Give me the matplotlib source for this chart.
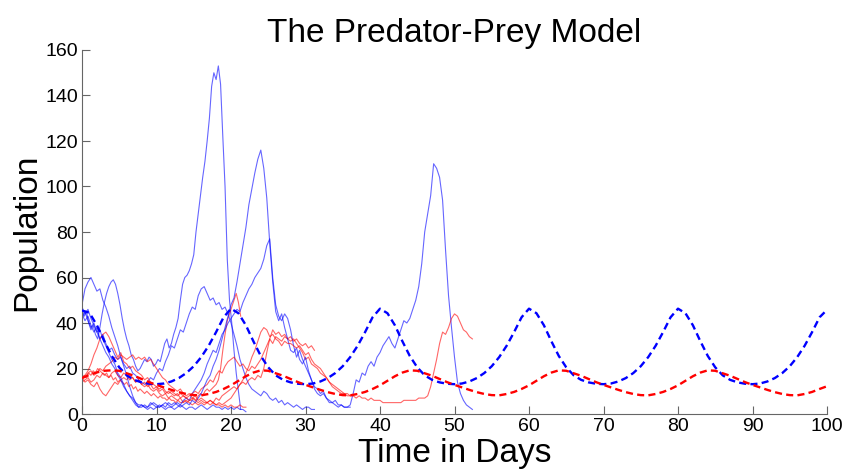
import numpy as np
import matplotlib.pyplot as plt

plt.rcParams['font.family'] = ['Liberation Sans', 'DejaVu Sans']

# deterministic model, one value per day (t = 0..100)
days = list(range(101))
prey_det = [45.5, 44.5, 39.0, 32.0, 25.5, 20.5, 17.0, 15.0, 13.9, 13.3,
            13.1, 13.4, 14.3, 15.8, 18.0, 21.0, 25.0, 30.0, 36.0, 42.5,
            46.3, 44.3, 39.0, 32.0, 25.5, 20.5, 17.0, 15.0, 13.9, 13.3,
            13.1, 13.4, 14.3, 15.8, 18.0, 21.0, 25.0, 30.0, 36.0, 42.5,
            46.3, 44.3, 39.0, 32.0, 25.5, 20.5, 17.0, 15.0, 13.9, 13.3,
            13.1, 13.4, 14.3, 15.8, 18.0, 21.0, 25.0, 30.0, 36.0, 42.5,
            46.3, 44.3, 39.0, 32.0, 25.5, 20.5, 17.0, 15.0, 13.9, 13.3,
            13.1, 13.4, 14.3, 15.8, 18.0, 21.0, 25.0, 30.0, 36.0, 42.5,
            46.3, 44.3, 39.0, 32.0, 25.5, 20.5, 17.0, 15.0, 13.9, 13.3,
            13.1, 13.4, 14.3, 15.8, 18.0, 21.0, 25.0, 30.0, 36.0, 42.5,
            45.8]
pred_det = [15.8, 17.2, 18.3, 19.0,
            19.2, 19.0, 17.9, 16.8, 15.4, 14.0, 12.8, 11.7, 10.6, 9.6,
            8.8, 8.3, 8.2, 8.8, 9.7, 11.0, 12.6, 14.6, 16.6, 18.2,
            19.2, 19.0, 17.9, 16.8, 15.4, 14.0, 12.8, 11.7, 10.6, 9.6,
            8.8, 8.3, 8.2, 8.8, 9.7, 11.0, 12.6, 14.6, 16.6, 18.2,
            19.2, 19.0, 17.9, 16.8, 15.4, 14.0, 12.8, 11.7, 10.6, 9.6,
            8.8, 8.3, 8.2, 8.8, 9.7, 11.0, 12.6, 14.6, 16.6, 18.2,
            19.2, 19.0, 17.9, 16.8, 15.4, 14.0, 12.8, 11.7, 10.6, 9.6,
            8.8, 8.3, 8.2, 8.8, 9.7, 11.0, 12.6, 14.6, 16.6, 18.2,
            19.2, 19.0, 17.9, 16.8, 15.4, 14.0, 12.8, 11.7, 10.6, 9.6,
            8.8, 8.3, 8.2, 8.8, 9.7, 11.0, 12.2]

# stochastic runs: end time of each run, values evenly spaced from t=0
run_end = [21.3, 31.2, 36.0, 52.4, 22.0]

prey_runs = [
    [46, 43, 45, 40, 37, 39, 35, 33, 38, 44,
     49, 53, 56, 58, 59, 57, 53, 48, 42, 37,
     33, 30, 26, 24, 21, 19, 20, 22, 24, 23,
     25, 24, 21, 22, 24, 23, 27, 31, 33, 29,
     31, 35, 38, 42, 50, 57, 60, 61, 63, 66,
     70, 80, 88, 96, 104, 111, 120, 130, 144, 150,
     147, 153, 145, 122, 100, 68, 50, 40, 28, 18, 10, 2],
    [42, 45, 41, 38, 40, 36, 33, 35, 31, 28,
     29, 26, 24, 25, 22, 20, 21, 18, 17, 15,
     14, 13, 14, 16, 15, 18, 20, 19, 23, 26,
     30, 29, 33, 37, 36, 40, 44, 47, 46, 52,
     55, 56, 53, 50, 51, 48, 49, 46, 47, 44,
     40, 35, 30, 24, 20, 16, 13, 11, 10, 9,
     8, 10, 9, 7, 6, 7, 5, 6, 4, 5,
     4, 3, 4, 3, 2, 3, 3, 2, 2],
    [47, 44, 46, 42, 39, 36, 37, 33, 30, 27,
     24, 22, 18, 16, 13, 10, 8, 6, 4, 3,
     3, 4, 3, 5, 4, 3, 3, 4, 5, 4,
     3, 4, 5, 4, 6, 7, 6, 9, 11, 13,
     15, 18, 22, 25, 28, 27, 31, 35, 37, 40,
     42, 44, 46, 45, 49, 52, 55, 57, 60, 62,
     64, 68, 74, 77, 60, 48, 43, 41, 44, 42,
     37, 30, 25, 28, 24, 21, 18, 15, 11, 9,
     8, 9, 7, 6, 5, 6, 4, 4, 3, 3, 3],
    [48, 55, 58, 60, 57, 54, 55, 50, 47, 43,
     38, 34, 30, 25, 21, 17, 12, 8, 5, 3,
     4, 3, 3, 4, 5, 4, 3, 4, 3, 5,
     4, 5, 4, 3, 4, 5, 4, 6, 5, 7,
     9, 12, 15, 17, 21, 24, 28, 33, 38, 43,
     48, 51, 58, 66, 74, 82, 92, 99, 106, 112,
     116, 108, 95, 75, 58, 45, 41, 44, 38, 33,
     28, 27, 29, 24, 22, 25, 19, 15, 12, 11,
     9, 10, 7, 5, 5, 4, 3, 4, 3, 3,
     4, 9, 15, 14, 18, 17, 21, 23, 21, 25,
     27, 30, 32, 34, 31, 29, 33, 37, 41, 40,
     42, 46, 50, 56, 66, 80, 88, 96, 110, 108,
     104, 94, 72, 52, 38, 25, 14, 9, 6, 4,
     3, 2],
    [44, 41, 43, 39, 36, 38, 33, 30, 27, 25,
     22, 20, 17, 15, 12, 10, 8, 7, 5, 4,
     4, 3, 2, 3, 2, 3, 4, 3, 2, 3,
     3, 2, 3, 4, 3, 2, 3, 3, 2, 3,
     4, 3, 2, 3, 4, 3, 3, 2, 3, 2,
     3, 2, 3, 2, 2, 1],
]

pred_runs = [
    [16, 17, 16, 18, 17, 19, 18, 20, 19, 18,
     17, 18, 16, 17, 15, 16, 14, 15, 14, 13,
     14, 12, 13, 11, 12, 10, 11, 10, 9, 10,
     9, 8, 9, 8, 7, 8, 7, 7, 6, 7,
     6, 6, 5, 6, 5, 5, 6, 5, 6, 6,
     7, 6, 8, 9, 8, 10, 11, 10, 11, 12,
     13, 15, 20, 28, 35, 41, 44, 47, 50, 53, 49, 43],
    [16, 14, 15, 13, 12, 14, 11, 9, 8, 10,
     12, 14, 13, 15, 16, 15, 17, 16, 14, 15,
     13, 12, 13, 11, 10, 11, 9, 8, 9, 7,
     8, 7, 6, 7, 5, 6, 5, 4, 5, 4,
     5, 4, 5, 6, 5, 7, 6, 8, 9, 10,
     11, 12, 11, 13, 14, 13, 15, 16, 15, 17,
     16, 20, 27, 33, 37, 35, 36, 34, 35, 33,
     34, 32, 33, 31, 30, 31, 29, 30, 28],
    [15, 17, 19, 22, 26, 29, 33, 35, 36, 34,
     31, 28, 25, 27, 23, 22, 20, 21, 19, 18,
     17, 15, 16, 14, 13, 12, 11, 12, 10, 9,
     10, 9, 8, 9, 8, 7, 8, 9, 10, 9,
     11, 12, 13, 15, 14, 17, 19, 18, 21, 23,
     24, 25, 23, 21, 22, 20, 19, 21, 20, 22,
     24, 27, 30, 33, 31, 34, 33, 32, 34, 33,
     32, 33, 31, 29, 27, 24, 25, 22, 21, 20,
     18, 17, 16, 14, 13, 12, 11, 10, 9, 9, 8],
    [17, 16, 18, 19, 17, 18, 20, 19, 21, 22,
     23, 25, 24, 26, 25, 24, 25, 26, 24, 25,
     24, 25, 23, 24, 22, 20, 18, 16, 15, 13,
     12, 11, 10, 11, 9, 8, 9, 7, 8, 6,
     7, 6, 5, 6, 5, 4, 5, 4, 5, 6,
     7, 9, 11, 13, 15, 18, 21, 25, 28, 32,
     36, 38, 37, 34, 35, 33, 32, 30, 32, 31,
     31, 30, 29, 30, 28, 26, 27, 24, 22, 21,
     20, 18, 16, 14, 12, 11, 10, 9, 9, 8,
     8, 8, 7, 8, 7, 7, 6, 7, 6, 6,
     6, 5, 5, 5, 5, 5, 5, 5, 6, 6,
     6, 6, 6, 7, 7, 7, 8, 12, 18, 24,
     31, 36, 35, 38, 42, 44, 43, 40, 37, 36,
     34, 33],
    [14, 15, 16, 14, 15, 17, 16, 18, 17, 16,
     18, 19, 17, 16, 18, 17, 15, 16, 14, 15,
     13, 14, 12, 13, 11, 12, 10, 11, 9, 10,
     9, 8, 9, 7, 8, 7, 6, 7, 6, 5,
     6, 5, 5, 4, 5, 4, 4, 3, 4, 3,
     4, 3, 3, 4, 3, 3],
]

fig = plt.figure(figsize=(8.46, 4.69), dpi=100)
ax = fig.add_axes([82 / 846, 55 / 469, 745 / 846, 364 / 469])

for end, prey, pred in zip(run_end, prey_runs, pred_runs):
    t = np.linspace(0, end, len(prey))
    ax.plot(t, prey, color='blue', alpha=0.6, linewidth=0.8)
    ax.plot(t, pred, color='red', alpha=0.6, linewidth=0.8)

ax.plot(days, prey_det, color='blue', linewidth=1.7, linestyle=(0, (3, 1.8)), zorder=5)
ax.plot(days, pred_det, color='red', linewidth=1.7, linestyle=(0, (3, 1.8)), zorder=5)

ax.set_xlim(0, 100)
ax.set_ylim(0, 160)
ax.set_xticks(range(0, 101, 10))
ax.set_yticks(range(0, 161, 20))
ax.spines['top'].set_visible(False)
ax.spines['right'].set_visible(False)
for s in ['left', 'bottom']:
    ax.spines[s].set_color('#666666')
ax.tick_params(direction='in', length=5.5, color='#666666', labelsize=14, pad=3)

ax.set_title('The Predator-Prey Model', fontsize=24, pad=6)
ax.set_xlabel('Time in Days', fontsize=24, labelpad=2)
ax.set_ylabel('Population', fontsize=24, labelpad=2)

fig.savefig('out.png', dpi=100)
